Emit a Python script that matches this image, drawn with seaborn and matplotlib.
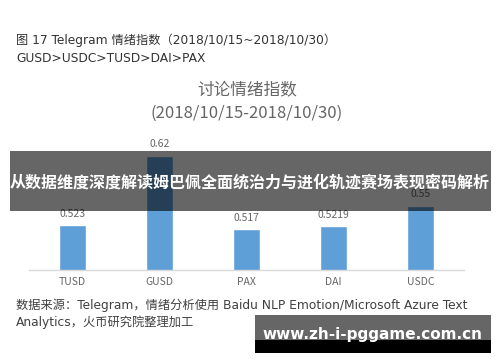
import matplotlib
matplotlib.use("Agg")
import matplotlib.pyplot as plt
import seaborn as sns
import pandas as pd
from matplotlib.patches import Rectangle

categories = ["TUSD", "GUSD", "PAX", "DAI", "USDC"]
values = [0.523, 0.62, 0.517, 0.5219, 0.55]
value_labels = ["0.523", "0.62", "0.517", "0.5219", "0.55"]

header1 = "图 17 Telegram 情绪指数（2018/10/15~2018/10/30）"
header2 = "GUSD>USDC>TUSD>DAI>PAX"
title1 = "讨论情绪指数"
title2 = "(2018/10/15-2018/10/30)"
footer1 = "数据来源：Telegram，情绪分析使用 Baidu NLP Emotion/Microsoft Azure Text"
footer2 = "Analytics，火币研究院整理加工"
banner = "从数据维度深度解读姆巴佩全面统治力与进化轨迹赛场表现密码解析"
site = "www.zh-i-pggame.com.cn"

sns.set_theme(style="white")
plt.rcParams['font.family'] = ['Noto Sans CJK SC', 'DejaVu Sans']
WIDE = ['DejaVu Sans', 'Noto Sans CJK SC']

W, H = 500, 362
fig = plt.figure(figsize=(W / 100, H / 100), dpi=100)
fig.patch.set_facecolor("white")

def fx(px):
    return px / W

def fy(py):
    return 1 - py / H

ax = fig.add_axes([fx(29), fy(270), 435 / W, 150 / H])
df = pd.DataFrame({"cat": categories, "val": values})
sns.barplot(data=df, x="cat", y="val", color="#5E9FD8", width=0.31,
            saturation=1, ax=ax)
ax.set_ylim(0.46, 0.67)
ax.set_xlim(-0.5, 4.5)
ax.set_xlabel("")
ax.set_ylabel("")
ax.set_yticks([])
for s in ["top", "right", "left"]:
    ax.spines[s].set_visible(False)
ax.spines["bottom"].set_color("#D9D9D9")
ax.spines["bottom"].set_linewidth(1.0)
ax.tick_params(axis="x", length=0, pad=5, labelsize=7.5, labelcolor="#666666")
ax.set_facecolor("none")
for i, (v, lab) in enumerate(zip(values, value_labels)):
    ax.annotate(lab, (i, v), xytext=(0, 4.5), textcoords="offset points",
                ha="center", va="bottom", fontsize=7.5, color="#666666")

fig.text(fx(16), fy(40), header1, fontsize=8.8, color="#333333", va="center",
         ha="left", family=WIDE)
fig.text(fx(16), fy(58), header2, fontsize=8.8, color="#333333", va="center",
         ha="left", family=WIDE)
fig.text(fx(247), fy(90), title1, fontsize=12, color="#666666", va="center", ha="center")
fig.text(fx(247), fy(113), title2, fontsize=12, color="#666666", va="center", ha="center")
fig.text(fx(16), fy(305), footer1, fontsize=8.8, color="#404040", va="center",
         ha="left", family=WIDE)
fig.text(fx(16), fy(322), footer2, fontsize=8.8, color="#404040", va="center",
         ha="left", family=WIDE)

# overlay banner
fig.patches.append(Rectangle((fx(10), fy(211)), 481 / W, 60 / H,
                             transform=fig.transFigure, facecolor="black",
                             alpha=0.6, edgecolor="none", zorder=5))
fig.text(fx(250), fy(183), banner, fontsize=11.5, color="white",
         fontweight="bold", ha="center", va="center", zorder=6)

# bottom site banner
fig.patches.append(Rectangle((fx(255), fy(340)), 236 / W, 25 / H,
                             transform=fig.transFigure, facecolor="#666666",
                             edgecolor="none", zorder=5))
fig.patches.append(Rectangle((fx(255), fy(353)), 236 / W, 13 / H,
                             transform=fig.transFigure, facecolor="black",
                             edgecolor="none", zorder=5))
fig.text(fx(372), fy(334), site, fontsize=11, color="white",
         fontweight="bold", ha="center", va="center", zorder=6,
         family=["DejaVu Sans"])

fig.savefig("out.png", dpi=100)
